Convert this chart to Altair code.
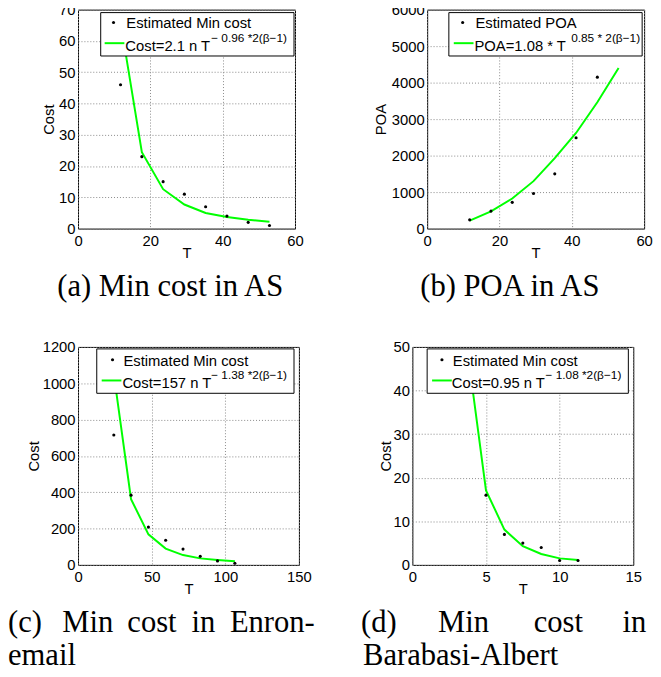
import altair as alt
import pandas as pd

# ---------------- data ----------------
a_T = [11.76, 17.65, 23.53, 29.41, 35.29, 41.18, 47.06, 52.94]
a_est = [46, 23, 15, 11, 7, 4, 2, 1]
a_fit = [66, 24.4, 12.6, 7.7, 5.0, 3.7, 2.8, 2.2]

b_T_pts = [11.76, 17.65, 23.53, 29.41, 35.29, 41.18, 47.06]
b_est = [240, 480, 720, 960, 1500, 2490, 4150]
b_T_line = [11.76, 17.65, 23.53, 29.41, 35.29, 41.18, 47.06, 52.94]
b_fit = [220, 470, 825, 1300, 1930, 2620, 3460, 4400]

c_T = [24.3, 36.0, 47.8, 59.5, 71.3, 83.0, 94.7, 106.5]
c_est = [715, 384, 208, 136, 87, 47, 22, 9]
c_fit = [1050, 362, 168, 90, 54, 36, 27, 20]

d_T_pts = [5, 6.25, 7.5, 8.75, 10, 11.25]
d_est = [16, 7, 5, 4, 1, 1]
d_T_line = [3.75, 5, 6.25, 7.5, 8.75, 10, 11.25]
d_fit = [49, 17.1, 8.1, 4.3, 2.5, 1.5, 1.1]

SANS = "Liberation Sans"
SERIF = "Liberation Serif"
GREEN = "#00ff00"
ONE = pd.DataFrame({"k": [0]})


def panel(Tp, est, Tl, fit, xdom, xticks, ydom, yticks, ytitle, ytitle_x,
          w, h, leg, caps, spacer=None):
    pts = pd.DataFrame({"T": Tp, "v": est})
    line = pd.DataFrame({"T": Tl, "v": fit})
    xs = alt.X("T:Q", scale=alt.Scale(domain=xdom, nice=False, zero=False),
               axis=alt.Axis(values=xticks, title="T", format="d"))
    ys = alt.Y("v:Q", scale=alt.Scale(domain=ydom, nice=False, zero=False),
               axis=alt.Axis(values=yticks, title=ytitle, titleX=ytitle_x, format="d"))
    l_line = alt.Chart(line).mark_line(color=GREEN, strokeWidth=2, clip=True).encode(x=xs, y=ys)
    l_pts = alt.Chart(pts).mark_circle(color="black", size=10, opacity=1).encode(x=xs, y=ys)

    bx0, bx1, by0, by1 = leg["box"]
    box = alt.Chart(ONE).mark_rect(fill="white", stroke="black", strokeWidth=1).encode(
        x=alt.value(bx0), x2=alt.value(bx1), y=alt.value(by0), y2=alt.value(by1))
    lp = alt.Chart(ONE).mark_circle(color="black", size=10, opacity=1).encode(
        x=alt.value(leg["pt"][0]), y=alt.value(leg["pt"][1]))
    ll = alt.Chart(ONE).mark_rule(color=GREEN, strokeWidth=2).encode(
        x=alt.value(leg["ln"][0]), x2=alt.value(leg["ln"][1]), y=alt.value(leg["ln"][2]))
    t1 = alt.Chart(ONE).mark_text(font=SANS, fontSize=15, align="left", baseline="alphabetic",
                                  color="black").encode(
        x=alt.value(leg["t1"][0]), y=alt.value(leg["t1"][1]), text=alt.value(leg["t1"][2]))
    t2 = alt.Chart(ONE).mark_text(font=SANS, fontSize=15, align="left", baseline="alphabetic",
                                  color="black").encode(
        x=alt.value(leg["t2"][0]), y=alt.value(leg["t2"][1]), text=alt.value(leg["t2"][2]))
    t3 = alt.Chart(ONE).mark_text(font=SANS, fontSize=12, align="left", baseline="alphabetic",
                                  color="black").encode(
        x=alt.value(leg["sup"][0]), y=alt.value(leg["sup"][1]), text=alt.value(leg["sup"][2]))
    layers = [l_line, l_pts, box, lp, ll, t1, t2, t3]
    for (cx, cy, ctext) in caps:
        layers.append(
            alt.Chart(ONE).mark_text(font=SERIF, fontSize=31, align="left",
                                     baseline="alphabetic", color="black").encode(
                x=alt.value(cx), y=alt.value(cy), text=alt.value(ctext)))
    if spacer is not None:
        sx, sy0, sy1 = spacer
        layers.append(
            alt.Chart(ONE).mark_rule(color="white", strokeWidth=1, opacity=0).encode(
                x=alt.value(sx), y=alt.value(sy0), y2=alt.value(sy1)))
    return alt.layer(*layers).properties(width=w, height=h)


pa = panel(a_T, a_est, a_T, a_fit, [0, 60], [0, 20, 40, 60], [0, 70],
           list(range(0, 71, 10)), "Cost", -25, 220, 222,
           {"box": (23, 219, 3, 47), "pt": (36, 13), "ln": (27, 47, 34),
            "t1": (49, 19, "Estimated Min cost"), "t2": (48, 42, "Cost=2.1 n T"),
            "sup": (135, 33, "\u2212 0.96 *2(\u03b2\u22121)")},
           [(-21, 290, "(a) Min cost in AS")], spacer=(-67, 0, 306))

pb = panel(b_T_pts, b_est, b_T_line, b_fit, [0, 60], [0, 20, 40, 60], [0, 6000],
           list(range(0, 6001, 1000)), "POA", -42, 220, 222,
           {"box": (22, 218, 3, 47), "pt": (36, 13), "ln": (27, 47, 34),
            "t1": (49, 19, "Estimated POA"), "t2": (48, 42, "POA=1.08 * T"),
            "sup": (146, 33, "0.85 * 2(\u03b2\u22121)")},
           [(-7, 290, "(b) POA in AS")])

pc = panel(c_T, c_est, c_T, c_fit, [0, 150], [0, 50, 100, 150], [0, 1200],
           list(range(0, 1201, 200)), "Cost", -40, 224, 221,
           {"box": (19, 219, 2, 47), "pt": (35, 13), "ln": (24, 44, 34),
            "t1": (46, 19, "Estimated Min cost"), "t2": (45, 42, "Cost=157 n T"),
            "sup": (135, 33, "\u2212 1.38 *2(\u03b2\u22121)")},
           [(-71, 289, "(c)"), (-16, 289, "Min"), (50, 289, "cost"),
            (115, 289, "in"), (154, 289, "Enron-"), (-71, 323, "email")],
           spacer=(-72, -32, 0))

pd_ = panel(d_T_pts, d_est, d_T_line, d_fit, [0, 15], [0, 5, 10, 15], [0, 50],
            list(range(0, 51, 10)), "Cost", -22, 224, 221,
            {"box": (15, 219, 2, 47), "pt": (30, 13), "ln": (20, 40, 34),
             "t1": (41, 19, "Estimated Min cost"), "t2": (40, 42, "Cost=0.95 n T"),
             "sup": (135, 33, "\u2212 1.08 *2(\u03b2\u22121)")},
            [(-52, 289, "(d)"), (26, 289, "Min"), (123, 289, "cost"),
             (213, 289, "in"), (-50, 323, "Barabasi-Albert")])

row1 = alt.hconcat(pa, pb, spacing=134, bounds="flush")
row2 = alt.hconcat(pc, pd_, spacing=115, bounds="flush")

chart = alt.vconcat(row1, row2, spacing=2, bounds="full").properties(
    padding={"left": -2, "top": -11, "right": 0, "bottom": 0}
).configure_view(
    stroke="black", strokeWidth=1
).configure_axis(
    labelFont=SANS, labelFontSize=15, labelColor="black",
    titleFont=SANS, titleFontSize=15, titleFontWeight="normal", titleColor="black",
    ticks=False, tickSize=0, domain=False,
    grid=True, gridColor="#888888", gridDash=[1, 2], gridWidth=1, gridOpacity=1,
).configure_axisX(
    labelPadding=5, titleY=29, titleBaseline="alphabetic", labelFlush=False, labelOverlap=False
).configure_axisY(
    labelPadding=3, titleBaseline="alphabetic", labelFlush=False, labelOverlap=False
)

chart.save("out.html", embed_options={"renderer": "svg", "actions": False})
